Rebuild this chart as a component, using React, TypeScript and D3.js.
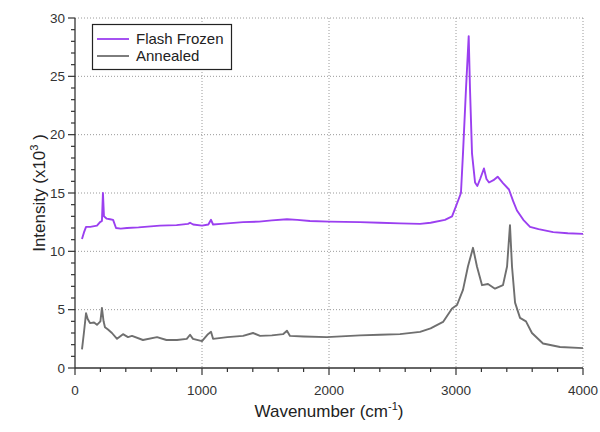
import React, { useEffect, useRef } from 'react';
import * as d3 from 'd3';

// Flash Frozen spectrum (wavenumber cm-1, intensity x10^3)
const frozenWave = [55, 70, 87, 120, 173, 197, 212, 220, 228, 250, 276, 300, 323, 360, 409, 500, 669, 800, 890, 906, 930, 1000, 1050, 1071, 1087, 1150, 1323, 1450, 1550, 1669, 1750, 1850, 2000, 2244, 2400, 2559, 2717, 2800, 2913, 2969, 3008, 3039, 3055, 3079, 3100, 3110, 3126, 3150, 3168, 3190, 3220, 3240, 3260, 3295, 3328, 3370, 3417, 3450, 3480, 3530, 3583, 3650, 3765, 3880, 4000];
const frozenIntensity = [11.05, 11.6, 12.1, 12.1, 12.2, 12.5, 12.6, 15.0, 13.0, 12.8, 12.75, 12.7, 12.0, 11.95, 12.0, 12.05, 12.2, 12.25, 12.35, 12.45, 12.3, 12.2, 12.3, 12.7, 12.3, 12.35, 12.5, 12.55, 12.65, 12.75, 12.7, 12.6, 12.55, 12.5, 12.45, 12.4, 12.35, 12.45, 12.7, 13.0, 14.1, 15.0, 18.4, 24.0, 28.45, 24.0, 18.4, 15.9, 15.6, 16.2, 17.1, 16.2, 15.9, 16.1, 16.4, 15.85, 15.3, 14.3, 13.5, 12.7, 12.1, 11.9, 11.65, 11.55, 11.5];

// Annealed spectrum
const annealedWave = [55, 70, 87, 100, 118, 150, 173, 200, 212, 225, 236, 260, 291, 331, 378, 417, 449, 535, 646, 720, 803, 880, 906, 929, 1000, 1047, 1071, 1087, 1200, 1323, 1402, 1457, 1550, 1638, 1669, 1693, 1800, 1984, 2244, 2400, 2559, 2717, 2800, 2898, 2969, 3008, 3055, 3094, 3134, 3165, 3205, 3252, 3307, 3370, 3402, 3425, 3441, 3465, 3504, 3551, 3598, 3685, 3819, 4000];
const annealedIntensity = [1.6, 3.0, 4.7, 4.2, 3.85, 3.9, 3.7, 4.0, 5.15, 4.0, 3.5, 3.3, 3.0, 2.5, 2.9, 2.65, 2.75, 2.4, 2.65, 2.4, 2.4, 2.5, 2.85, 2.5, 2.3, 2.9, 3.1, 2.5, 2.65, 2.75, 3.0, 2.75, 2.8, 2.9, 3.2, 2.75, 2.7, 2.65, 2.8, 2.85, 2.9, 3.1, 3.4, 3.95, 5.1, 5.4, 6.7, 8.7, 10.3, 8.7, 7.1, 7.2, 6.8, 7.1, 8.7, 12.25, 8.7, 5.6, 4.3, 4.0, 3.0, 2.1, 1.8, 1.7];

const xTicks = [0, 1000, 2000, 3000, 4000];
const yTicks = [0, 5, 10, 15, 20, 25, 30];

const seriesNames = ['Flash Frozen', 'Annealed'];
const seriesColors = ['#9b3ff0', '#6f6f6f'];

const FONT = '"Liberation Sans", Arial, sans-serif';

const App = () => {
    const ref = useRef<SVGSVGElement>(null);

    useEffect(() => {
        const svg = d3.select(ref.current);
        svg.selectAll('*').remove();

        const left = 75, right = 583, top = 18, bottom = 368;

        const x = d3.scaleLinear().domain([0, 4000]).range([left, right]);
        const y = d3.scaleLinear().domain([0, 30]).range([bottom, top]);

        // dotted grid
        const grid = svg.append('g');
        grid.selectAll('.gx')
            .data(xTicks.filter(d => d > 0))
            .enter()
            .append('line')
            .attr('x1', d => x(d)).attr('x2', d => x(d))
            .attr('y1', top).attr('y2', bottom)
            .attr('stroke', '#9a9a9a')
            .attr('stroke-dasharray', '1,2');
        grid.selectAll('.gy')
            .data(yTicks.filter(d => d > 0))
            .enter()
            .append('line')
            .attr('x1', left).attr('x2', right)
            .attr('y1', d => y(d)).attr('y2', d => y(d))
            .attr('stroke', '#9a9a9a')
            .attr('stroke-dasharray', '1,2');

        // axis lines
        svg.append('line')
            .attr('x1', left).attr('x2', right)
            .attr('y1', bottom).attr('y2', bottom)
            .attr('stroke', '#333').attr('stroke-width', 1.3);
        svg.append('line')
            .attr('x1', left).attr('x2', left)
            .attr('y1', bottom).attr('y2', top)
            .attr('stroke', '#333').attr('stroke-width', 1.3);

        // x ticks (minor every 200, major every 1000)
        svg.selectAll('.xt')
            .data(d3.range(0, 4001, 200))
            .enter()
            .append('line')
            .attr('x1', d => x(d)).attr('x2', d => x(d))
            .attr('y1', bottom).attr('y2', d => bottom + (d % 1000 === 0 ? 7 : 4))
            .attr('stroke', '#333').attr('stroke-width', 1.2);
        svg.selectAll('.xl')
            .data(xTicks)
            .enter()
            .append('text')
            .attr('x', d => x(d))
            .attr('y', bottom + 22)
            .attr('dy', '0.35em')
            .attr('text-anchor', 'middle')
            .attr('font-family', FONT)
            .attr('font-size', 13.5)
            .attr('fill', '#333')
            .text(d3.format('d'));

        // y ticks (minor every 1, major every 5)
        svg.selectAll('.yt')
            .data(d3.range(0, 31, 1))
            .enter()
            .append('line')
            .attr('x1', left).attr('x2', d => left - (d % 5 === 0 ? 7 : 4))
            .attr('y1', d => y(d)).attr('y2', d => y(d))
            .attr('stroke', '#333').attr('stroke-width', 1.2);
        svg.selectAll('.yl')
            .data(yTicks)
            .enter()
            .append('text')
            .attr('x', left - 10)
            .attr('y', d => y(d))
            .attr('dy', '0.35em')
            .attr('text-anchor', 'end')
            .attr('font-family', FONT)
            .attr('font-size', 13.5)
            .attr('fill', '#333')
            .text(d3.format('d'));

        // lines
        const line = d3.line<[number, number]>()
            .x(d => x(d[0]))
            .y(d => y(d[1]));

        const series = [
            d3.zip(frozenWave, frozenIntensity) as [number, number][],
            d3.zip(annealedWave, annealedIntensity) as [number, number][],
        ];
        series.forEach((s, i) => {
            svg.append('path')
                .datum(s)
                .attr('fill', 'none')
                .attr('stroke', seriesColors[i])
                .attr('stroke-width', 1.9)
                .attr('stroke-linejoin', 'round')
                .attr('d', line);
        });

        // legend
        const legend = svg.append('g');
        legend.append('rect')
            .attr('x', 92.5).attr('y', 24.5)
            .attr('width', 139).attr('height', 45)
            .attr('fill', 'white')
            .attr('stroke', '#222')
            .attr('stroke-width', 1.2);
        seriesNames.forEach((name, i) => {
            const ly = 39 + i * 17;
            legend.append('line')
                .attr('x1', 97).attr('x2', 129)
                .attr('y1', ly).attr('y2', ly)
                .attr('stroke', seriesColors[i])
                .attr('stroke-width', 1.8);
            legend.append('text')
                .attr('x', 136).attr('y', ly)
                .attr('dy', '0.35em')
                .attr('font-family', FONT)
                .attr('font-size', 15)
                .attr('fill', '#222')
                .text(name);
        });

        // axis titles
        const xt = svg.append('text')
            .attr('x', (left + right) / 2)
            .attr('y', 417)
            .attr('text-anchor', 'middle')
            .attr('font-family', FONT)
            .attr('font-size', 17)
            .attr('fill', '#222');
        xt.append('tspan').text('Wavenumber (cm');
        xt.append('tspan').attr('font-size', 11).attr('dy', -7).text('-1');
        xt.append('tspan').attr('dy', 7).text(')');

        const yt = svg.append('text')
            .attr('transform', `translate(45,${(top + bottom) / 2}) rotate(-90)`)
            .attr('text-anchor', 'middle')
            .attr('font-family', FONT)
            .attr('font-size', 17)
            .attr('fill', '#222');
        yt.append('tspan').text('Intensity (x10');
        yt.append('tspan').attr('font-size', 11).attr('dy', -7).text('3');
        yt.append('tspan').attr('dy', 7).text(' )');
    }, []);

    return (
        <svg
            ref={ref}
            width={600}
            height={432}
            style={{ position: 'absolute', left: 0, top: 0, background: 'white' }}
        ></svg>
    );
};

export default App;
